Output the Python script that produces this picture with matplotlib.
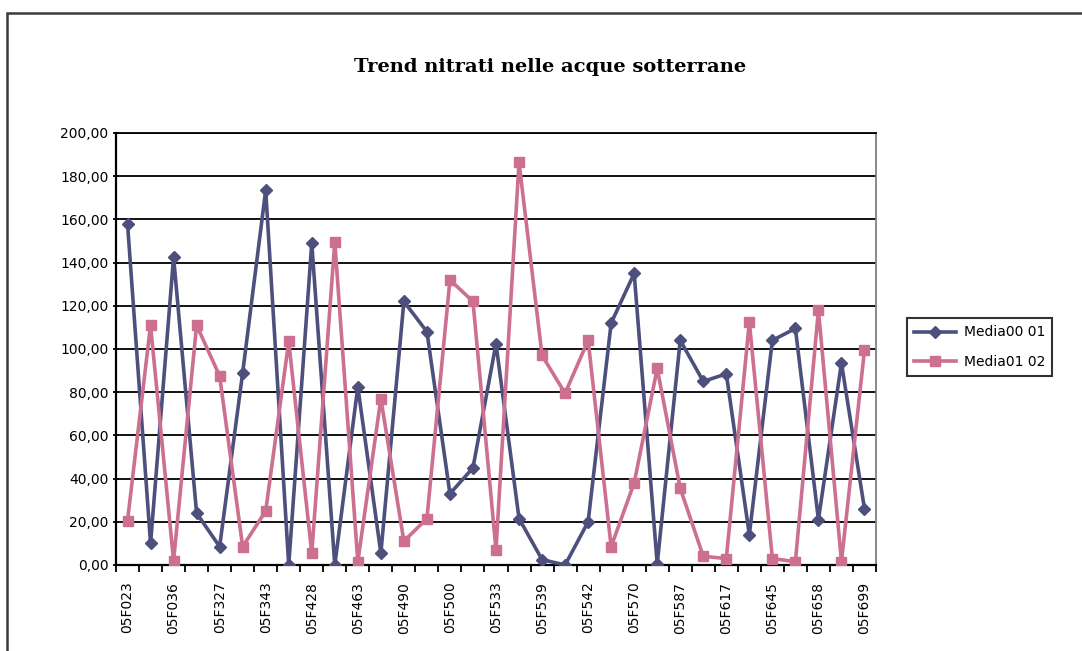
import matplotlib
matplotlib.use("Agg")
import matplotlib.pyplot as plt
from matplotlib.patches import Rectangle
import numpy as np

title = "Trend nitrati nelle acque sotterrane"
series_names = ["Media00 01", "Media01 02"]
tick_labels = ["05F023", "05F036", "05F327", "05F343", "05F428", "05F463",
               "05F490", "05F500", "05F533", "05F539", "05F542", "05F570",
               "05F587", "05F617", "05F645", "05F658", "05F699"]
media_00_01 = [158, 10, 142.5, 24, 8.5, 89, 173.5, 0, 149, 0, 82.5, 5.5,
               122, 108, 33, 45, 102.5, 21.5, 2.5, 0, 20, 112, 135, 0.5,
               104, 85, 88.5, 14, 104, 109.5, 21, 93.5, 26]
media_01_02 = [20.5, 111, 2, 111, 87.5, 8.5, 25, 103.5, 5.5, 149.5, 1.5, 77,
               11, 21.5, 132, 122, 7, 186.5, 97, 79.5, 104, 8.5, 38, 91,
               35.5, 4, 3, 112.5, 3, 1.5, 118, 1.5, 99.5]
y_ticks = [0, 20, 40, 60, 80, 100, 120, 140, 160, 180, 200]

W, H = 1082, 651
fig = plt.figure(figsize=(W / 100, H / 100), dpi=100)
fig.patch.set_facecolor("white")

# outer chart border (only left/top visible)
fig.add_artist(Rectangle((7 / W, -0.05), 1.2, 1 - 13 / H + 0.05,
                         transform=fig.transFigure, fill=False,
                         edgecolor="#3a3a3a", linewidth=1.8))

ax = fig.add_axes([116 / W, 86 / H, 760 / W, 432 / H])
n = len(media_00_01)
x = np.arange(n)

blue = "#4d4f7d"
pink = "#cc6f90"
ax.plot(x, media_00_01, color=blue, linewidth=2.6, marker="D",
        markersize=6, label=series_names[0], zorder=3)
ax.plot(x, media_01_02, color=pink, linewidth=2.6, marker="s",
        markersize=7.5, label=series_names[1], zorder=3)

tick_font = {"family": "DejaVu Sans", "size": 10}
ax.set_xlim(-0.5, n - 0.5)
ax.set_ylim(0, 200)
ax.set_yticks(y_ticks)
ax.set_yticklabels([f"{v:.2f}".replace(".", ",") for v in y_ticks],
                   fontdict=tick_font)
ax.yaxis.grid(True, color="black", linewidth=1.3)
ax.set_axisbelow(True)

ax.set_xticks(np.arange(0, n, 2))
ax.set_xticklabels(tick_labels, rotation=90, fontdict=tick_font)
ax.set_xticks(np.arange(-0.5, n, 1), minor=True)
ax.tick_params(axis="x", which="major", length=0, pad=12)
ax.tick_params(axis="x", which="minor", length=5, width=1.3, direction="out")
ax.tick_params(axis="y", length=5, width=1.3, direction="inout", pad=3)

ax.spines["left"].set_linewidth(1.6)
ax.spines["bottom"].set_linewidth(1.6)
ax.spines["top"].set_color("black")
ax.spines["top"].set_linewidth(1.3)
ax.spines["right"].set_color("#808080")
ax.spines["right"].set_linewidth(1.3)

fig.text(550 / W, 1 - 67 / H, title, ha="center", va="center",
         fontsize=14, fontweight="bold", family="DejaVu Serif")

leg = fig.legend(loc="center left", bbox_to_anchor=(900 / W, 1 - 347 / H),
                 frameon=True, fancybox=False, edgecolor="black",
                 prop={"family": "DejaVu Sans", "size": 10},
                 handlelength=3.0, labelspacing=1.1, borderpad=0.5,
                 handletextpad=0.6)
leg.get_frame().set_linewidth(1.5)

fig.savefig("out.png", dpi=100, facecolor="white")
